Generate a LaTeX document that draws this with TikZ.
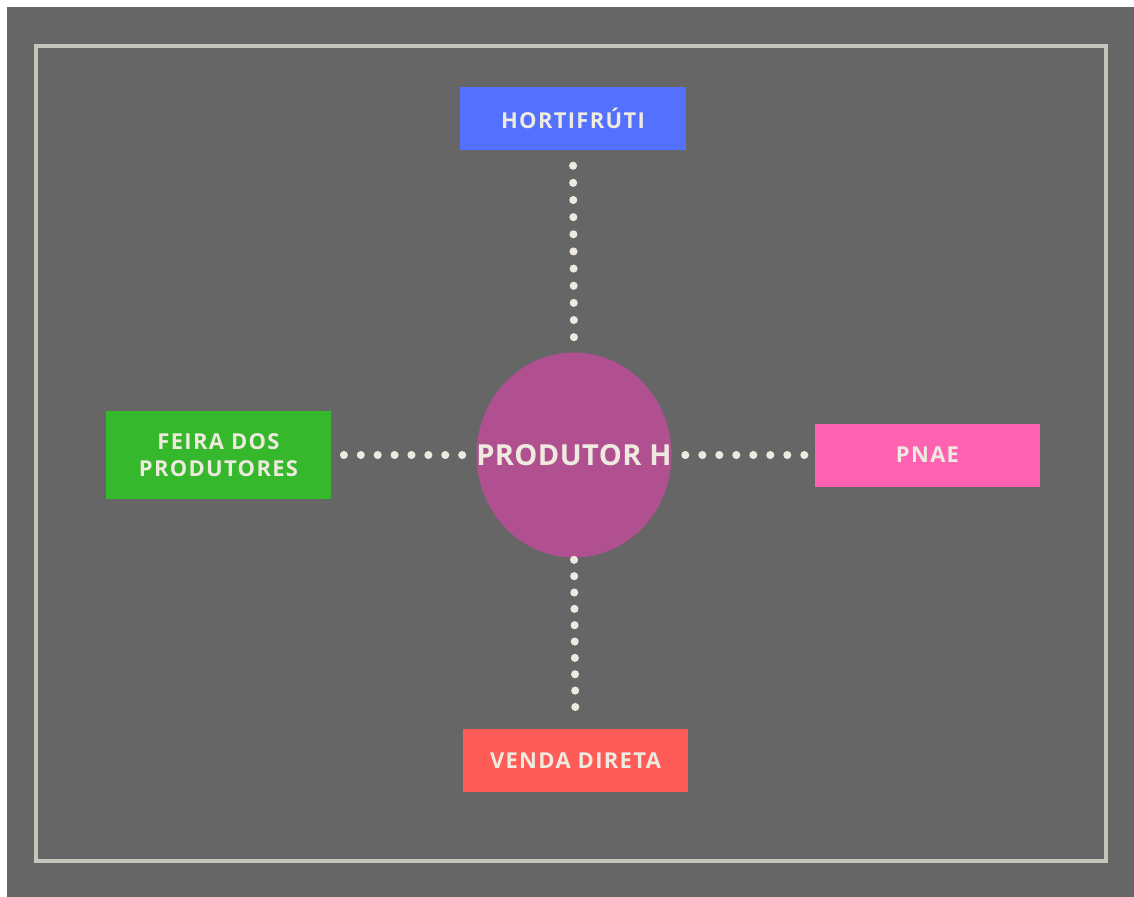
\documentclass[tikz,border=0pt]{standalone}
\usepackage{fontspec}
\setmainfont{Open Sans}
\usetikzlibrary{shapes.geometric}
\definecolor{bgGray}{HTML}{666666}
\definecolor{frameGray}{HTML}{C6C6BC}
\definecolor{txtCream}{HTML}{EEEADF}
\definecolor{hortBlue}{HTML}{5470FF}
\definecolor{feiraGreen}{HTML}{36B82D}
\definecolor{pnaePink}{HTML}{FF62B0}
\definecolor{vendaRed}{HTML}{FF5C58}
\definecolor{hubPurple}{HTML}{B15090}
\begin{document}
\begin{tikzpicture}[
			x=0.02cm, y=-0.02cm,
			box/.style={
				rectangle,
				minimum width=4.52cm,
				minimum height=1.26cm,
				inner sep=0pt,
				text=txtCream,
				align=center,
				font=\bfseries\fontsize{12.5}{15.3}\selectfont\addfontfeatures{LetterSpace=6},
			},
			hub/.style={
				ellipse,
				fill=hubPurple,
				minimum width=3.9cm,
				minimum height=4.1cm,
				inner sep=0pt,
				text=txtCream,
				font=\bfseries\fontsize{16.5}{20}\selectfont\addfontfeatures{LetterSpace=1.5},
			},
			DotLine/.style={% round dots
				line width=4.6pt,
				line cap=round,
				color=txtCream,
				dash pattern=on 0pt off #1,
			},
			]
				% background and frame
				\useasboundingbox (0,0) rectangle (1134,897);
				\fill[bgGray] (7,7) rectangle (1134,897);
				\draw[frameGray, line width=2.8pt] (36,46) rectangle (1106,861);
				
				% centre
				\node[hub] (hub) at (574,455) {\makebox[0pt]{PRODUTOR H}};
				
				% channels
				\node[box, fill=hortBlue] (hort) at (573,118.5) {HORTIFRÚTI};
				\node[box, fill=feiraGreen, minimum height=1.76cm] (feira) at (218.5,455) {FEIRA DOS\\PRODUTORES};
				\node[box, fill=pnaePink] (pnae) at (927.5,455) {PNAE};
				\node[box, fill=vendaRed] (venda) at (575.5,760.5) {VENDA DIRETA};
				
				\draw[DotLine=0.343cm, shorten <=0.3cm, shorten >=0.3cm] (hub.north) -- (hort.south);
				\draw[DotLine=0.338cm, shorten <=0.28cm, shorten >=0.23cm] (hub.west) -- (feira.east);
				\draw[DotLine=0.340cm, shorten <=0.27cm, shorten >=0.17cm] (hub.east) -- (pnae.west);
				\draw[DotLine=0.327cm, shorten <=0.04cm, shorten >=0.12cm] (hub.south) -- (venda.north);
			\end{tikzpicture}
\end{document}
